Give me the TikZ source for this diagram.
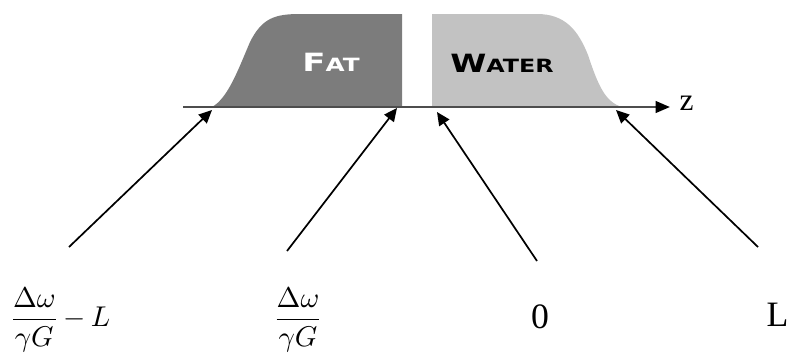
\documentclass[tikz,border=0pt]{standalone}
\usepackage{fontspec}
\setmainfont{Liberation Serif}
\newfontfamily\capsfont{DejaVu Sans}
\usetikzlibrary{arrows.meta}
\definecolor{fatGrey}{HTML}{7C7C7C}
\definecolor{waterGrey}{HTML}{C2C2C2}
\definecolor{axisGrey}{HTML}{4D4D4D}

\begin{document}
\begin{tikzpicture}[x=0.35pt,y=-0.35pt,
    pointer/.style={line width=0.6pt,-{Triangle[length=4.6pt,width=4.2pt]}},
    tissue/.style={font=\capsfont\bfseries,inner sep=0pt},
    poslabel/.style={font=\fontsize{12.5}{15}\selectfont,inner sep=0pt},
    fraclabel/.style={font=\fontsize{10}{12}\selectfont,inner sep=0pt}]
  \useasboundingbox (0,0) rectangle (790,356);
  % fat and water profiles
  \fill[fatGrey] (212,107) .. controls (228,98) and (238,70) .. (250,42)
    .. controls (262,18) and (275,14) .. (300,14) -- (402,14) -- (402,107) -- cycle;
  \fill[waterGrey] (432,107) -- (432,14) -- (537,14)
    .. controls (565,14) and (578,30) .. (588,55)
    .. controls (598,85) and (605,102) .. (622,107) -- cycle;
  \node[tissue,white] (fat) at (331,62)
    {\scalebox{1.35}[1]{\fontsize{8.8}{9}\selectfont F\fontsize{6.4}{7}\selectfont AT}};
  \node[tissue,black] (water) at (502,63)
    {\scalebox{1.3}[1]{\fontsize{8.8}{9}\selectfont W\fontsize{6.4}{7}\selectfont ATER}};
  % z axis
  \coordinate (zs) at (183,107);
  \coordinate (ze) at (670,107);
  \node[font=\fontsize{11}{13}\selectfont,inner sep=0pt,anchor=west] (z) at (679,103) {z};
  \draw[axisGrey,line width=0.9pt,-{Triangle[length=5pt,width=4pt,color=black]}] (zs) -- (ze);
  % positions on the axis
  \coordinate (pA) at (212,110);
  \coordinate (pB) at (397,108);
  \coordinate (pC) at (437,112);
  \coordinate (pD) at (616,110);
  \coordinate (tA) at (69,247);
  \coordinate (tB) at (287,251);
  \coordinate (tC) at (537,261);
  \coordinate (tD) at (758,247);
  \foreach \p in {A,B,C,D}
    \draw[pointer] (t\p) -- (p\p);
  % labels
  \node[fraclabel,anchor=west] (lbA) at (9,320)
    {$\displaystyle\frac{\Delta\omega}{\gamma G}\,{-}\,L$};
  \node[fraclabel] (lbB) at (298,320)
    {$\displaystyle\frac{\Delta\omega}{\gamma G}$};
  \node[poslabel] (lbC) at (540,317) {0};
  \node[poslabel,anchor=east] (lbD) at (789,315) {L};
\end{tikzpicture}
\end{document}
